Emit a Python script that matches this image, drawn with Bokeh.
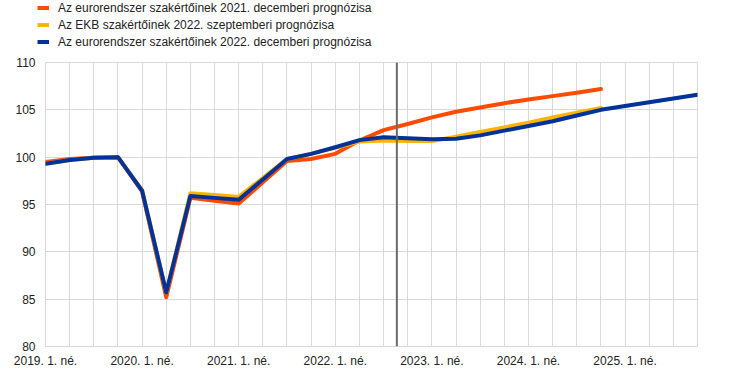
from bokeh.plotting import figure
from bokeh.models import Range1d, FixedTicker, Span, Legend, LegendItem
from bokeh.embed import file_html
from bokeh.resources import INLINE

quarters = [f"{y}Q{q}" for y in range(2019, 2026) for q in range(1, 5)]
tick_labels = {0: "2019. 1. né.", 4: "2020. 1. né.", 8: "2021. 1. né.", 12: "2022. 1. né.",
               16: "2023. 1. né.", 20: "2024. 1. né.", 24: "2025. 1. né."}

series_names = [
    "Az eurorendszer szakértőinek 2021. decemberi prognózisa",
    "Az EKB szakértőinek 2022. szeptemberi prognózisa",
    "Az eurorendszer szakértőinek 2022. decemberi prognózisa",
]

dec2021 = [99.5, 99.8, 99.95, 100.0, 96.4, 85.2, 95.7, 95.4, 95.1, 97.35, 99.6, 99.8,
           100.35, 101.75, 102.85, 103.5, 104.2, 104.8, 105.25, 105.7, 106.1, 106.45, 106.8, 107.2]
sep2022 = [99.3, 99.7, 99.95, 100.0, 96.5, 85.7, 96.2, 96.0, 95.8, 97.8, 99.8, 100.35,
           101.0, 101.65, 101.75, 101.7, 101.7, 102.15, 102.65, 103.15, 103.65, 104.2, 104.7, 105.2]
dec2022 = [99.3, 99.7, 99.95, 100.0, 96.45, 85.7, 95.9, 95.7, 95.5, 97.65, 99.8, 100.35,
           101.05, 101.8, 102.1, 102.0, 101.9, 101.95, 102.3, 102.8, 103.3, 103.8, 104.4, 105.0,
           105.4, 105.8, 106.2, 106.6]
cutoff_position = 14.55

series = [dec2021, sep2022, dec2022]
colors = ["#FF4B00", "#FFB400", "#003299"]
FONT = "Liberation Sans"
W = 728
LEG_H = 54

# ---- legend strip (same series drawn outside its visible range; only the legend shows) ----
lf = figure(width=W, height=LEG_H, output_backend="svg", toolbar_location=None,
            x_range=Range1d(0, W), y_range=Range1d(0, LEG_H),
            min_border=0, x_axis_location=None, y_axis_location=None)
lf.outline_line_color = None
lf.grid.visible = False
leg_renderers = [lf.line(list(range(len(v))), v, line_color=c, line_width=4)
                 for v, c in zip(series, colors)]
legend = Legend(items=[LegendItem(label=n, renderers=[r]) for n, r in zip(series_names, leg_renderers)],
                location=(37, LEG_H - 49))
legend.glyph_width = 12
legend.glyph_height = 15
legend.label_height = 15
legend.spacing = 2
legend.label_standoff = 9
legend.padding = 0
legend.margin = 0
legend.border_line_color = None
legend.background_fill_alpha = 0
legend.label_text_font = FONT
legend.label_text_font_size = "12px"
legend.label_text_color = "#222222"
lf.add_layout(legend, "center")

# ---- main chart ----
p = figure(width=W, height=370 - LEG_H, output_backend="svg", toolbar_location=None,
           x_range=Range1d(0, len(quarters) - 1), y_range=Range1d(80, 110),
           min_border_left=45, min_border_right=31, min_border_top=8, min_border_bottom=24)

p.outline_line_color = "#d9d9d9"
p.background_fill_color = "white"
p.border_fill_color = "white"

for vals, col in zip(series, colors):
    xs = list(range(len(vals)))
    p.line(xs, vals, line_color=col, line_width=4, line_join="round", line_cap="round")

p.add_layout(Span(location=cutoff_position, dimension="height", line_color="#6b6b6b", line_width=2))

p.xaxis.ticker = FixedTicker(ticks=list(tick_labels.keys()))
p.xaxis.major_label_overrides = tick_labels
p.yaxis.ticker = FixedTicker(ticks=list(range(80, 111, 5)))
for ax in (p.xaxis[0], p.yaxis[0]):
    ax.axis_line_color = None
    ax.major_tick_line_color = None
    ax.minor_tick_line_color = None
    ax.major_tick_out = 0
    ax.major_tick_in = 0
    ax.minor_tick_out = 0
    ax.minor_tick_in = 0
    ax.major_label_text_font = FONT
    ax.major_label_text_font_size = "12px"
    ax.major_label_text_color = "#222222"
p.xaxis.major_label_standoff = 7
p.yaxis.major_label_standoff = 10

p.xgrid.ticker = FixedTicker(ticks=list(range(len(quarters))))
p.ygrid.ticker = FixedTicker(ticks=list(range(80, 111, 5)))
p.xgrid.grid_line_color = "#d9d9d9"
p.ygrid.grid_line_color = "#d9d9d9"

open("out.html", "w").write(file_html([lf, p], INLINE))
